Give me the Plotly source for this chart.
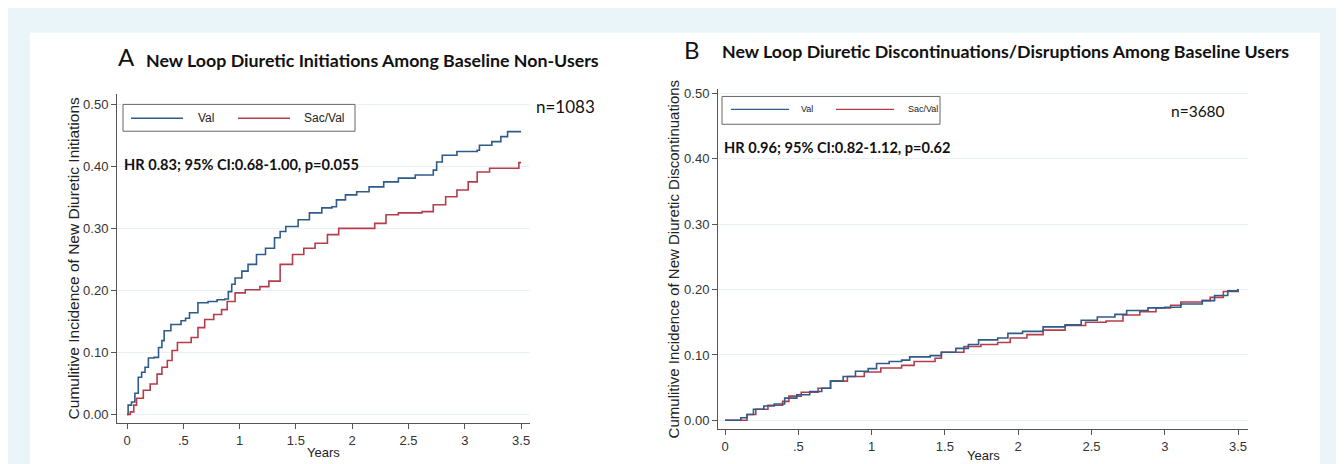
import plotly.graph_objects as go

# ---------------- data ----------------
# Panel A: new loop diuretic initiations among baseline non-users (n=1083)
a_val_years = [0, 0.01, 0.04, 0.07, 0.10, 0.13, 0.16, 0.19, 0.24, 0.28, 0.31, 0.33, 0.39, 0.48,
               0.52, 0.555, 0.62, 0.63, 0.72, 0.80, 0.87, 0.90, 0.93, 0.96, 1.02, 1.075, 1.15,
               1.23, 1.31, 1.36, 1.41, 1.52, 1.62, 1.73, 1.82, 1.86, 1.94, 2.04, 2.15, 2.28,
               2.41, 2.56, 2.72, 2.75, 2.80, 2.93, 3.11, 3.13, 3.24, 3.32, 3.38, 3.50]
a_val_inc = [0, 0.015, 0.02, 0.034, 0.06, 0.068, 0.076, 0.091, 0.092, 0.108, 0.119, 0.135, 0.145,
             0.151, 0.155, 0.164, 0.164, 0.18, 0.182, 0.185, 0.186, 0.198, 0.21, 0.22, 0.231,
             0.242, 0.258, 0.268, 0.285, 0.295, 0.303, 0.314, 0.325, 0.333, 0.335, 0.346, 0.354,
             0.359, 0.367, 0.375, 0.381, 0.386, 0.394, 0.407, 0.418, 0.424, 0.426, 0.434, 0.44,
             0.448, 0.456, 0.456]
a_sac_years = [0, 0.03, 0.06, 0.085, 0.145, 0.206, 0.267, 0.31, 0.358, 0.40, 0.448, 0.51, 0.57,
               0.63, 0.69, 0.77, 0.84, 0.89, 0.96, 1.05, 1.18, 1.26, 1.36, 1.47, 1.57, 1.67,
               1.78, 1.88, 2.09, 2.20, 2.30, 2.41, 2.62, 2.72, 2.83, 2.93, 3.03, 3.11, 3.22,
               3.48, 3.50]
a_sac_inc = [0, 0.004, 0.015, 0.026, 0.039, 0.049, 0.065, 0.076, 0.087, 0.103, 0.116, 0.116,
             0.124, 0.14, 0.153, 0.161, 0.169, 0.182, 0.196, 0.201, 0.206, 0.215, 0.242, 0.258,
             0.268, 0.276, 0.29, 0.30, 0.30, 0.308, 0.322, 0.325, 0.327, 0.338, 0.351, 0.362,
             0.375, 0.391, 0.397, 0.406, 0.406]

# Panel B: discontinuations/disruptions among baseline users (n=3680)
b_val_years = [0, 0.08, 0.108, 0.15, 0.194, 0.265, 0.336, 0.407, 0.49, 0.578, 0.66, 0.72, 0.806,
               0.89, 0.977, 1.034, 1.12, 1.205, 1.26, 1.40, 1.476, 1.575, 1.66, 1.73, 1.86, 1.93,
               2.03, 2.17, 2.32, 2.43, 2.54, 2.66, 2.74, 2.886, 3.0, 3.11, 3.256, 3.34, 3.43, 3.50]
b_val_inc = [0, 0, 0.004, 0.009, 0.017, 0.022, 0.025, 0.034, 0.039, 0.044, 0.049, 0.06, 0.067,
             0.075, 0.079, 0.087, 0.09, 0.092, 0.097, 0.099, 0.104, 0.11, 0.116, 0.123, 0.126,
             0.133, 0.136, 0.143, 0.146, 0.153, 0.158, 0.162, 0.168, 0.172, 0.173, 0.178, 0.183,
             0.191, 0.198, 0.201]
b_sac_years = [0, 0.08, 0.15, 0.21, 0.293, 0.393, 0.436, 0.52, 0.635, 0.72, 0.835, 0.95, 1.063,
               1.205, 1.29, 1.433, 1.476, 1.63, 1.746, 1.86, 1.946, 2.06, 2.17, 2.32, 2.46, 2.60,
               2.715, 2.83, 2.94, 3.04, 3.11, 3.256, 3.31, 3.40, 3.50]
b_sac_inc = [0, 0, 0.009, 0.017, 0.023, 0.029, 0.037, 0.043, 0.049, 0.06, 0.067, 0.074, 0.08,
             0.084, 0.09, 0.095, 0.104, 0.113, 0.116, 0.119, 0.126, 0.131, 0.138, 0.145, 0.15,
             0.152, 0.161, 0.166, 0.172, 0.176, 0.181, 0.183, 0.188, 0.197, 0.201]

y_tickvals = [0, 0.1, 0.2, 0.3, 0.4, 0.5]
y_ticktext = ["0.00", "0.10", "0.20", "0.30", "0.40", "0.50"]
x_tickvals = [0, 0.5, 1, 1.5, 2, 2.5, 3, 3.5]
x_ticktext = ["0", ".5", "1", "1.5", "2", "2.5", "3", "3.5"]
series_names = ["Val", "Sac/Val"]

# ---------------- styling ----------------
W, H = 1344, 464
OFF = 8  # page body margin in the browser
BLUE = "#2e5b8a"
RED = "#b33d4a"
CYAN = "#e9f5f8"
AXC = "#555555"
GRID = "#eaf1f3"
TICKFONT = dict(family="Liberation Sans, Arial", size=13, color="#333333")
TFONT = "Lato, Open Sans, sans-serif"
ARIAL = "Liberation Sans, Arial"


def px(x):
    return (x - OFF) / W


def py(y):
    return 1 - (y - OFF) / H


fig = go.Figure()
fig.add_trace(go.Scatter(x=a_val_years, y=a_val_inc, name=series_names[0], mode="lines",
                         line=dict(color=BLUE, width=1.6, shape="hv"), xaxis="x", yaxis="y"))
fig.add_trace(go.Scatter(x=a_sac_years, y=a_sac_inc, name=series_names[1], mode="lines",
                         line=dict(color=RED, width=1.6, shape="hv"), xaxis="x", yaxis="y"))
fig.add_trace(go.Scatter(x=b_sac_years, y=b_sac_inc, name=series_names[1], mode="lines",
                         line=dict(color=RED, width=1.6, shape="hv"), xaxis="x2", yaxis="y2"))
fig.add_trace(go.Scatter(x=b_val_years, y=b_val_inc, name=series_names[0], mode="lines",
                         line=dict(color=BLUE, width=1.6, shape="hv"), xaxis="x2", yaxis="y2"))

axis_common = dict(showline=True, linecolor=AXC, linewidth=1, ticks="outside", ticklen=5,
                   tickcolor=AXC, tickfont=TICKFONT, zeroline=False, mirror=False)

fig.update_layout(
    width=W, height=H,
    margin=dict(l=0, r=0, t=0, b=0),
    paper_bgcolor=CYAN,
    plot_bgcolor="rgba(0,0,0,0)",
    showlegend=False,
    xaxis=dict(domain=[px(117), px(530)], range=[-0.0888, 3.579], anchor="y",
               tickvals=x_tickvals, ticktext=x_ticktext, showgrid=False, **axis_common),
    yaxis=dict(domain=[py(423), py(92)], range=[-0.0144, 0.516], anchor="x",
               tickvals=y_tickvals, ticktext=y_ticktext, showgrid=True, gridcolor=GRID,
               gridwidth=1, **axis_common),
    xaxis2=dict(domain=[px(718), px(1248)], range=[-0.0478, 3.568], anchor="y2",
                tickvals=x_tickvals, ticktext=x_ticktext, showgrid=False, **axis_common),
    yaxis2=dict(domain=[py(429), py(87)], range=[-0.0137, 0.506], anchor="x2",
                tickvals=y_tickvals, ticktext=y_ticktext, showgrid=True, gridcolor=GRID,
                gridwidth=1, **axis_common),
)

shapes = [
    # white panel
    dict(type="rect", xref="paper", yref="paper", x0=px(30), x1=px(1320), y0=0, y1=py(30),
         fillcolor="white", line=dict(width=0), layer="below"),
    # legend box A
    dict(type="rect", xref="paper", yref="paper", x0=px(123), x1=px(355), y0=py(129), y1=py(102),
         fillcolor="white", line=dict(color="#666666", width=1)),
    dict(type="line", xref="paper", yref="paper", x0=px(131), x1=px(183), y0=py(116), y1=py(116),
         line=dict(color=BLUE, width=1.5)),
    dict(type="line", xref="paper", yref="paper", x0=px(238), x1=px(290), y0=py(116), y1=py(116),
         line=dict(color=RED, width=1.5)),
    # legend box B
    dict(type="rect", xref="paper", yref="paper", x0=px(722), x1=px(940), y0=py(122), y1=py(94),
         fillcolor="white", line=dict(color="#666666", width=1)),
    dict(type="line", xref="paper", yref="paper", x0=px(731), x1=px(789), y0=py(107), y1=py(107),
         line=dict(color=BLUE, width=1.2)),
    dict(type="line", xref="paper", yref="paper", x0=px(836), x1=px(894), y0=py(107), y1=py(107),
         line=dict(color=RED, width=1.2)),
]
fig.update_layout(shapes=shapes)


def ann(text, x, y, size, bold=False, family=TFONT, xanchor="left", color="#111111", angle=0):
    if bold:
        text = "<b>" + text + "</b>"
    return dict(text=text, xref="paper", yref="paper", x=px(x), y=py(y), xanchor=xanchor,
                yanchor="middle", showarrow=False, textangle=angle,
                font=dict(family=family, size=size, color=color))


annotations = [
    ann("A", 116, 54, 24),
    ann("New Loop Diuretic Initiations Among Baseline Non-Users", 144, 57, 17.8, bold=True),
    ann("B", 682, 47, 24),
    ann("New Loop Diuretic Discontinuations/Disruptions Among Baseline Users", 720, 48, 17.8, bold=True),
    ann("n=1083", 534, 104, 17),
    ann("n=3680", 1169, 109, 15.5),
    ann("HR 0.83; 95% CI:0.68-1.00, p=0.055", 122, 162, 14.6, bold=True),
    ann("HR 0.96; 95% CI:0.82-1.12, p=0.62", 722, 145, 14.6, bold=True),
    ann(series_names[0], 196, 116, 12, family=ARIAL, color="#222222"),
    ann(series_names[1], 302, 116, 12, family=ARIAL, color="#222222"),
    ann(series_names[0], 799, 107, 9, family=ARIAL, color="#222222"),
    ann(series_names[1], 906, 107, 9, family=ARIAL, color="#222222"),
    ann("Cumulitive Incidence of New Diuretic Initiations", 73, 257, 15.5, family=ARIAL,
        xanchor="center", color="#222222", angle=-90),
    ann("Cumulitive Incidence of New Diuretic Discontinuations", 673, 258, 15, family=ARIAL,
        xanchor="center", color="#222222", angle=-90),
    ann("Years", 323, 452, 13, family=ARIAL, xanchor="center", color="#222222"),
    ann("Years", 983, 455, 13, family=ARIAL, xanchor="center", color="#222222"),
]
fig.update_layout(annotations=annotations)

fig.write_html("out.html")
